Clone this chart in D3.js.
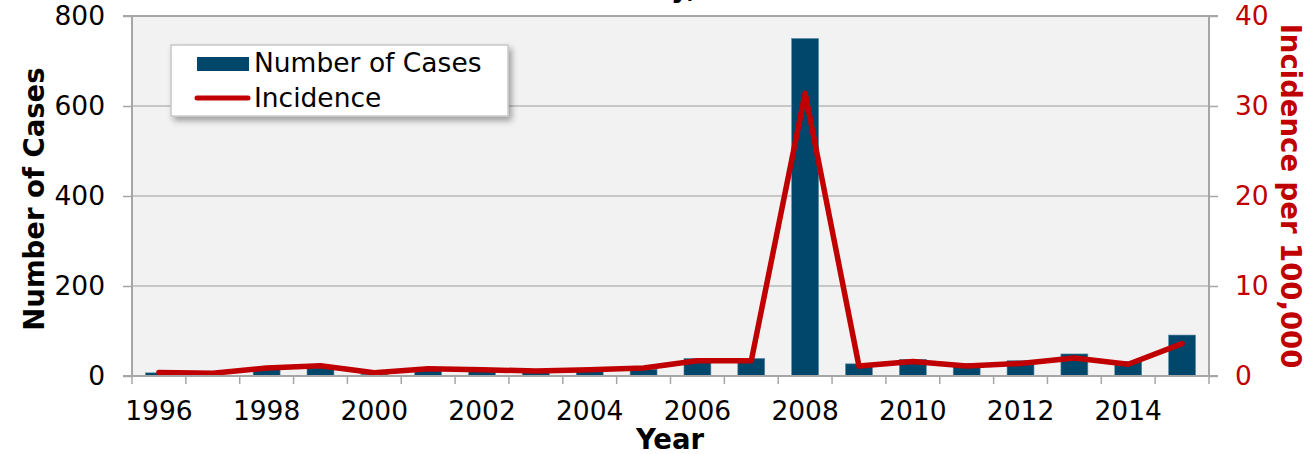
<!DOCTYPE html>
<html>
<head>
<meta charset="utf-8">
<script src="https://cdn.jsdelivr.net/npm/d3@7"></script>
<style>
    body { margin: 0; background: #fff; }
    svg text { font-family: "DejaVu Sans", Verdana, sans-serif; }
</style>
</head>
<body>
<svg id="chart" width="1307" height="454"></svg>
<script>
let years = d3.range(1996, 2016)
let cases = [7, 2, 14, 18, 4, 12, 10, 8, 11, 15, 39, 39, 750, 27, 37, 28, 34, 49, 32, 91]
let incidence = [0.4, 0.3, 0.9, 1.15, 0.35, 0.8, 0.7, 0.55, 0.7, 0.9, 1.7, 1.7, 31.4, 1.1, 1.6, 1.1, 1.4, 2.0, 1.3, 3.6]
let caseTicks = [0, 200, 400, 600, 800]
let incidenceTicks = [0, 10, 20, 30, 40]
let yearLabels = [1996, 1998, 2000, 2002, 2004, 2006, 2008, 2010, 2012, 2014]

let margin = {top: 16, right: 98, bottom: 78, left: 132}
let svg = d3.select('#chart')
let width = +svg.attr('width') - margin.left - margin.right
let height = +svg.attr('height') - margin.top - margin.bottom
let barColor = '#00476b'
let lineColor = '#c00000'
let gridColor = '#b8b8b8'
let fontSize = 26.5
let titleSize = 27.5

let x = d3.scaleBand()
    .domain(years)
    .range([0, width])
    .paddingInner(0.5)
    .paddingOuter(0.25)
let yLeft = d3.scaleLinear().domain([0, 800]).range([height, 0])
let yRight = d3.scaleLinear().domain([0, 40]).range([height, 0])

// title, cut off at the top edge like in the original
let title = svg.append('text')
    .attr('y', -3)
    .attr('font-size', titleSize)
    .attr('font-weight', 'bold')
    .text('Disease Cases and Incidence in Benton County, 1996\u20132015')
let yIdx = title.text().indexOf('y,')
let yOffset = title.node().getSubStringLength(0, yIdx)
title.attr('x', 671 - yOffset)

let g = svg.append('g').attr('transform', 'translate(' + margin.left + ',' + margin.top + ')')

g.append('rect')
    .attr('width', width)
    .attr('height', height)
    .attr('fill', '#f2f2f2')

g.selectAll('.grid')
    .data(caseTicks.filter(d => d > 0))
    .enter().append('line')
    .attr('x1', 0)
    .attr('x2', width)
    .attr('y1', d => yLeft(d))
    .attr('y2', d => yLeft(d))
    .attr('stroke', gridColor)
    .attr('stroke-width', 1.5)

// bars
g.selectAll('.bar')
    .data(years)
    .enter().append('rect')
    .attr('x', d => x(d))
    .attr('width', x.bandwidth())
    .attr('y', (d, i) => yLeft(cases[i]))
    .attr('height', (d, i) => height - yLeft(cases[i]))
    .attr('fill', barColor)
    .attr('stroke', '#5c8aa0')
    .attr('stroke-width', 0.6)

// incidence line
let line = d3.line()
    .x((d, i) => x(years[i]) + x.bandwidth() / 2)
    .y(d => yRight(d))
g.append('path')
    .datum(incidence)
    .attr('d', line)
    .attr('fill', 'none')
    .attr('stroke', lineColor)
    .attr('stroke-width', 5.5)
    .attr('stroke-linecap', 'round')
    .attr('stroke-linejoin', 'round')

// left axis
let leftAxis = g.append('g')
    .call(d3.axisLeft(yLeft).tickValues(caseTicks).tickSize(9).tickPadding(18))
leftAxis.select('.domain').attr('stroke', '#a6a6a6').attr('stroke-width', 2)
    .attr('d', 'M0,' + height + 'V0')
leftAxis.selectAll('.tick line').attr('stroke', '#a6a6a6').attr('stroke-width', 1.5)
leftAxis.selectAll('.tick text').attr('font-size', fontSize).attr('fill', '#000')
    .attr('font-family', '"DejaVu Sans", Verdana, sans-serif')

// right axis
let rightAxis = g.append('g')
    .attr('transform', 'translate(' + width + ',0)')
    .call(d3.axisRight(yRight).tickValues(incidenceTicks).tickSize(9).tickPadding(17))
rightAxis.select('.domain').attr('stroke', '#a6a6a6').attr('stroke-width', 2)
    .attr('d', 'M0,' + height + 'V0')
rightAxis.selectAll('.tick line').attr('stroke', '#a6a6a6').attr('stroke-width', 1.5)
rightAxis.selectAll('.tick text').attr('font-size', fontSize).attr('fill', lineColor)
    .attr('font-family', '"DejaVu Sans", Verdana, sans-serif')

// top border line of the plot
g.append('line')
    .attr('x1', -9).attr('x2', width + 9)
    .attr('y1', 0).attr('y2', 0)
    .attr('stroke', '#a6a6a6').attr('stroke-width', 2)

// bottom axis: ticks between categories, labels every other year
let gap = (x.step() - x.bandwidth()) / 2
let bottom = g.append('g').attr('transform', 'translate(0,' + height + ')')
bottom.append('line')
    .attr('x1', -9).attr('x2', width + 9)
    .attr('stroke', '#a6a6a6').attr('stroke-width', 2)
bottom.selectAll('.xtick')
    .data(years.concat([2016]))
    .enter().append('line')
    .attr('x1', d => d === 2016 ? width : x(d) - gap)
    .attr('x2', d => d === 2016 ? width : x(d) - gap)
    .attr('y1', 0)
    .attr('y2', 8)
    .attr('stroke', '#a6a6a6')
    .attr('stroke-width', 1.5)
bottom.selectAll('.xlabel')
    .data(yearLabels)
    .enter().append('text')
    .attr('x', d => x(d) + x.bandwidth() / 2)
    .attr('y', 44)
    .attr('text-anchor', 'middle')
    .attr('font-size', fontSize)
    .text(d => d)

// axis titles
svg.append('text')
    .attr('x', 670)
    .attr('y', 449)
    .attr('text-anchor', 'middle')
    .attr('font-size', titleSize)
    .attr('font-weight', 'bold')
    .text('Year')
svg.append('text')
    .attr('transform', 'translate(44,199) rotate(-90)')
    .attr('text-anchor', 'middle')
    .attr('font-size', titleSize)
    .attr('font-weight', 'bold')
    .text('Number of Cases')
svg.append('text')
    .attr('transform', 'translate(1281,196) rotate(90)')
    .attr('text-anchor', 'middle')
    .attr('font-size', titleSize)
    .attr('font-weight', 'bold')
    .attr('fill', lineColor)
    .text('Incidence per 100,000')

// legend
let defs = svg.append('defs')
let shadow = defs.append('filter').attr('id', 'shadow')
    .attr('x', '-10%').attr('y', '-20%').attr('width', '130%').attr('height', '150%')
shadow.append('feDropShadow')
    .attr('dx', 3).attr('dy', 4).attr('stdDeviation', 3)
    .attr('flood-color', '#000').attr('flood-opacity', 0.35)

let legend = svg.append('g').attr('transform', 'translate(171,45)')
legend.append('rect')
    .attr('width', 337)
    .attr('height', 71)
    .attr('fill', '#fff')
    .attr('stroke', '#c8c8c8')
    .attr('stroke-width', 1.5)
    .attr('filter', 'url(#shadow)')
legend.append('rect')
    .attr('x', 26).attr('y', 12)
    .attr('width', 52).attr('height', 14)
    .attr('fill', barColor)
legend.append('line')
    .attr('x1', 26).attr('x2', 77)
    .attr('y1', 53).attr('y2', 53)
    .attr('stroke', lineColor)
    .attr('stroke-width', 5)
    .attr('stroke-linecap', 'round')
legend.selectAll('.ltext')
    .data(['Number of Cases', 'Incidence'])
    .enter().append('text')
    .attr('x', 83)
    .attr('y', (d, i) => 27 + i * 35)
    .attr('font-size', fontSize)
    .text(d => d)
</script>
</body>
</html>
